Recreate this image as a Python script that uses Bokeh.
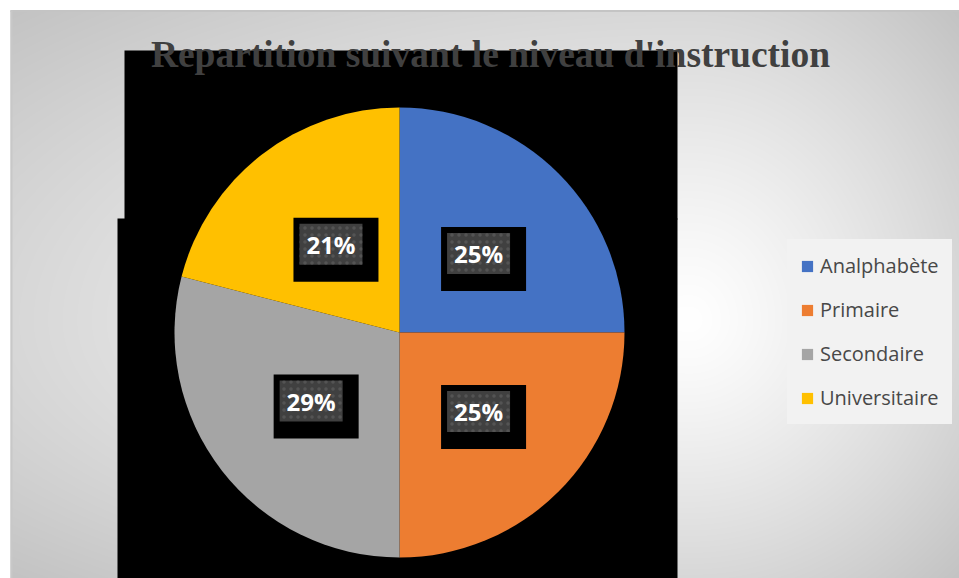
import numpy as np
from bokeh.plotting import figure
from bokeh.models import ColumnDataSource, Range1d, Legend, LegendItem
from bokeh.core.properties import value
from bokeh.embed import file_html
from bokeh.resources import INLINE

# ---- data ----
title_text = "Repartition suivant le niveau d'instruction"
categories = ["Analphabète", "Primaire", "Secondaire", "Universitaire"]
shares = [25, 25, 29, 21]
colors = ["#4472C4", "#ED7D31", "#A5A5A5", "#FFC000"]

# ---- layout helpers (picture pixel coordinates -> data) ----
PAGE_H = 578
def Y(py):
    return PAGE_H - py

W, H = 959, 578
p = figure(width=W, height=H, x_range=Range1d(0, W), y_range=Range1d(Y(H), Y(0)),
           x_axis_type=None, y_axis_type=None, toolbar_location=None,
           output_backend="svg", min_border=0, outline_line_color=None,
           background_fill_color="white", border_fill_color="white")
p.grid.visible = False

# ---- background gradient ----
gx0, gx1, gy0, gy1 = 10, 959, 10, 578
gw, gh = gx1 - gx0, gy1 - gy0
xs = gx0 + np.arange(gw) + 0.5
ys = gy1 - (np.arange(gh) + 0.5)          # row 0 = bottom
XX, YY = np.meshgrid(xs, ys)
cx, cy = 690.0, 320.0
nx = np.where(XX < cx, (cx - XX) / (cx - gx0), (XX - cx) / (gx1 - cx))
ny = np.where(YY < cy, (cy - YY) / (cy - gy0), (YY - cy) / (gy1 - cy))
d = np.clip(np.sqrt((nx ** 2 + ny ** 2) / 2.0), 0, 1)
v = (255 - 60 * d ** 1.2).astype(np.uint8)
img = np.empty((gh, gw), dtype=np.uint32)
view = img.view(dtype=np.uint8).reshape((gh, gw, 4))
view[:, :, 0] = v
view[:, :, 1] = v
view[:, :, 2] = v
view[:, :, 3] = 255
p.image_rgba(image=[img], x=gx0, y=Y(gy1), dw=gw, dh=gh)
p.quad(left=[gx0], right=[gx1], top=[Y(9.5)], bottom=[Y(11.5)], fill_color="#c4c4c4", line_color=None)
p.quad(left=[gx0], right=[gx0 + 2], top=[Y(10)], bottom=[Y(578)], fill_color="#c8c8c8", line_color=None)

# ---- black artefact blocks ----
p.quad(left=[124, 117], right=[677, 677], top=[Y(50), Y(218)], bottom=[Y(219), Y(578)],
       fill_color="black", line_color=None)

# ---- title ----
p.text(x=[490], y=[Y(54)], text=[title_text], text_font=value("Liberation Serif"),
       text_font_style="bold", text_font_size="37.5px", text_color="#404040",
       text_align="center", text_baseline="middle")

# ---- pie ----
cxp, cyp, R = 399, Y(332), 225
total = float(sum(shares))
frac = np.array(shares) / total
cum = np.concatenate([[0], np.cumsum(frac)])
start = np.pi / 2 - 2 * np.pi * cum[:-1]
end = np.pi / 2 - 2 * np.pi * cum[1:]
mid = (start + end) / 2
src = ColumnDataSource(dict(cat=categories, start=start, end=end, color=colors,
                            lx=cxp + 0.497 * R * np.cos(mid), ly=cyp + 0.497 * R * np.sin(mid),
                            lab=["%d%%" % round(f * 100) for f in frac]))
wedges = p.wedge(x=cxp, y=cyp, radius=R, start_angle="start", end_angle="end", direction="clock",
                 fill_color="color", line_color=None, source=src)

# ---- data labels ----
src_box = ColumnDataSource(dict(bx=src.data["lx"] + 5, by=src.data["ly"] - 5.5))
p.rect(x="bx", y="by", width=85, height=64, width_units="screen", height_units="screen",
       fill_color="black", line_color=None, source=src_box)
p.rect(x="lx", y="ly", width=63, height=41, width_units="screen", height_units="screen",
       fill_color="#404040", line_color=None, hatch_pattern="dot", hatch_color="#545454",
       hatch_scale=7, hatch_weight=1.5, source=src)
p.text(x="lx", y="ly", text="lab", text_font=value("Open Sans"), text_font_style="bold",
       text_font_size="24px", text_color="white", text_align="center", text_baseline="middle",
       source=src)

# ---- legend ----
items = [LegendItem(label=c, renderers=[wedges], index=i) for i, c in enumerate(categories)]
legend = Legend(items=items, location=(787, Y(424)), orientation="vertical",
                background_fill_color="#f2f2f2", background_fill_alpha=1.0,
                border_line_color="#f2f2f2", border_line_width=1,
                label_text_font="Open Sans", label_text_font_size="20px",
                label_text_color="#484848", label_height=20, glyph_height=14, glyph_width=14,
                spacing=17, padding=12, margin=0, label_standoff=6)
p.add_layout(legend, "center")

open("out.html", "w").write(file_html(p, INLINE))
